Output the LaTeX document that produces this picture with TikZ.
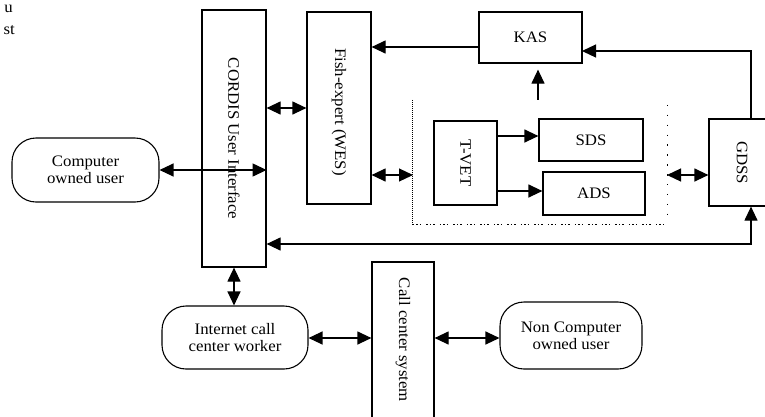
\documentclass[tikz,border=0pt]{standalone}
\usepackage{fontspec}
\setmainfont{Liberation Serif}[FakeStretch=1.05]
\usetikzlibrary{arrows.meta}
\newcommand{\tfont}{\fontsize{16}{17}\selectfont}
\begin{document}
\begin{tikzpicture}[x=1pt,y=-1pt,
  box/.style={draw, line width=1.2pt, inner sep=0pt},
  term/.style={draw, line width=1.1pt, rounded corners=24pt, inner sep=0pt, align=center, font=\tfont},
  arr/.style={-{Triangle[length=14pt,width=13pt]}, line width=1.2pt},
  darr/.style={{Triangle[length=14pt,width=13pt]}-{Triangle[length=14pt,width=13pt]}, line width=1.2pt},
  lbl/.style={font=\tfont, align=center, inner sep=0pt}]
\useasboundingbox (0,0) rectangle (765,416);
\clip (0,0) rectangle (765,416);
% cropped fragments of page text
\node[lbl, anchor=base east] (f1) at (13,12) {u};
\node[lbl, anchor=base east] (f2) at (15,34) {st};
% boxes
\node[box, minimum width=64pt, minimum height=257pt] (cordis) at (234,138.5) {};
\node[lbl, rotate=-90] (cordist) at (cordis.center) {CORDIS User Interface};
\node[box, minimum width=64pt, minimum height=192pt] (fish) at (339,108) {};
\node[lbl, rotate=-90] (fisht) at (339,112) {Fish-expert (WES)};
\node[box, minimum width=103pt, minimum height=51pt, font=\tfont] (kas) at (530.5,37.5) {KAS};
\node[inner sep=0pt, minimum width=254pt, minimum height=124pt] (dbox) at (540,162) {};
\node[box, minimum width=63pt, minimum height=84pt] (tvet) at (465.5,163) {};
\node[lbl, rotate=-90] (tvett) at (tvet.center) {T-VET};
\node[box, minimum width=104pt, minimum height=42pt, font=\tfont] (sds) at (591,140) {SDS};
\node[box, minimum width=102pt, minimum height=43pt, font=\tfont] (ads) at (594,193.5) {ADS};
\node[box, minimum width=66pt, minimum height=87pt] (gdss) at (742,162.5) {};
\node[lbl, rotate=-90] (gdsst) at (gdss.center) {GDSS};
\node[term, minimum width=147pt, minimum height=64pt] (cuser) at (85.5,170) {Computer\\owned user};
\node[term, minimum width=146pt, minimum height=63pt] (inet) at (235,337.5) {Internet call\\center worker};
\node[term, minimum width=142pt, minimum height=67pt] (ncu) at (571,335.5) {Non Computer\\owned user};
\node[box, minimum width=62pt, minimum height=170pt] (call) at (403,347) {};
\node[lbl, rotate=-90] (callt) at (403,340) {Call center system};
% dotted enclosure
\draw[line width=1pt, dash pattern=on 1pt off 1pt] (dbox.north west) -- (dbox.south west);
\draw[line width=1pt, dash pattern=on 1.5pt off 2pt on 1.5pt off 2pt on 1.5pt off 5pt] (dbox.south west) -- (dbox.south east);
\draw[line width=1.4pt, dash pattern=on 1.4pt off 8.5pt] ([yshift=-5pt]dbox.north east) -- ([yshift=10pt]dbox.south east);
% coordinates
\coordinate (dl) at (413,175);
\coordinate (dr) at (667,175);
\coordinate (ka) at (479,47);
\coordinate (g1) at (751,119);
\coordinate (ke) at (582,51);
\coordinate (lb) at (751,244);
% connectors
\draw[darr] (cuser.east) -- (cuser.east -| cordis.east);
\draw[darr] (cordis.east |- fish.west) -- (fish.west);
\draw[darr] (fish.east |- dl) -- (dl);
\draw[darr] (dr) -- (dr -| gdss.west);
\draw[arr] (ka) -- (ka -| fish.east);
\draw[arr] (g1) |- (ke);
\draw[arr, shorten >=6pt] (dbox.north -| 538,0) -- (kas.south -| 538,0);
\draw[arr] (tvet.east |- 0,136) -- (sds.west |- 0,136);
\draw[arr] (tvet.east |- 0,191) -- (ads.west |- 0,191);
\draw[darr] (lb -| cordis.east) -- (lb) -- (lb |- gdss.south);
\draw[darr] (cordis.south) -- (cordis.south |- inet.north);
\draw[darr] (inet.east |- 0,338) -- (call.west |- 0,338);
\draw[darr] (call.east |- 0,338) -- (ncu.west |- 0,338);
\end{tikzpicture}
\end{document}
